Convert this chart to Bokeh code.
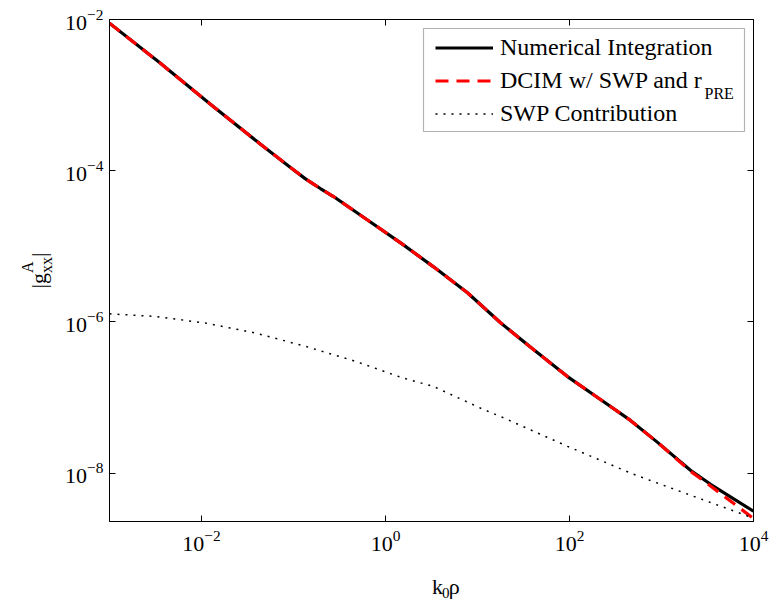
from bokeh.core.properties import value
from bokeh.embed import file_html
from bokeh.layouts import column, row
from bokeh.models import (BoxAnnotation, CustomJSTickFormatter, FixedTicker, Label,
                          Legend, LegendItem, LogAxis, LogTickFormatter, Range1d)
from bokeh.plotting import figure
from bokeh.resources import INLINE

# normalised distance k0*rho
rho_num = [1.0e-3, 3.58e-3, 1.25e-2, 4.38e-2, 0.0927, 0.135, 0.196, 0.272, 0.637,
           1.46, 3.33, 7.78, 17.8, 40.6, 95.1, 217.0, 460.0, 906.0, 2065.0, 3412.0,
           1.0e4]
# |g_xx^A| from numerical integration of the Sommerfeld integral
g_num = [8.93e-3, 2.63e-3, 7.57e-4, 2.24e-4, 1.10e-4, 7.80e-5, 5.81e-5, 4.55e-5,
         2.23e-5, 1.11e-5, 5.35e-6, 2.43e-6, 9.75e-7, 4.30e-7, 1.89e-7, 9.42e-8,
         4.98e-8, 2.55e-8, 1.09e-8, 7.11e-9, 3.13e-9]
# DCIM approximation with surface-wave poles and r_PRE
rho_dcim = rho_num
g_dcim = [8.93e-3, 2.63e-3, 7.57e-4, 2.24e-4, 1.10e-4, 7.80e-5, 5.81e-5, 4.55e-5,
          2.23e-5, 1.11e-5, 5.35e-6, 2.43e-6, 9.75e-7, 4.30e-7, 1.89e-7, 9.42e-8,
          4.98e-8, 2.55e-8, 1.06e-8, 6.76e-9, 2.51e-9]
# surface-wave pole contribution alone
rho_swp = [1.0e-3, 3.16e-3, 1.10e-2, 3.86e-2, 0.135, 0.472, 1.53, 3.33, 11.6,
           17.8, 95.1, 497.0, 3412.0, 1.0e4]
g_swp = [1.28e-6, 1.18e-6, 9.66e-7, 7.13e-7, 4.75e-7, 3.01e-7, 1.82e-7, 1.40e-7,
         6.95e-8, 5.61e-8, 2.26e-8, 9.64e-9, 4.08e-9, 2.54e-9]

x_ticks = [1e-2, 1e0, 1e2, 1e4]
y_ticks = [1e-8, 1e-6, 1e-4, 1e-2]

FONT = "Liberation Serif"
W, H = 771, 602
YLAB_W = 60          # strip holding the rotated y title
XLAB_H = 37          # strip holding the x title
MAIN_W, MAIN_H = W - YLAB_W, H - XLAB_H
LEFT = 109           # canvas x of the frame's left edge
FRAME_BOTTOM = 521   # canvas y of the frame's lower edge

p = figure(width=MAIN_W, height=MAIN_H, x_axis_type="log", y_axis_type="log",
           x_range=Range1d(1e-3, 1e4), y_range=Range1d(2.29e-9, 1e-2),
           output_backend="svg", toolbar_location=None,
           min_border_left=LEFT - YLAB_W, min_border_right=W - 753,
           min_border_top=19, min_border_bottom=MAIN_H - FRAME_BOTTOM)
p.background_fill_color = "white"
p.border_fill_color = "white"
p.outline_line_color = "black"
p.outline_line_width = 1
p.xgrid.visible = False
p.ygrid.visible = False


def style_axis(ax, ticks, labelled, standoff):
    ax.ticker = FixedTicker(ticks=ticks, minor_ticks=[])
    if labelled:
        ax.formatter = LogTickFormatter()
    else:
        ax.formatter = CustomJSTickFormatter(code="return ''")
    ax.major_tick_in = 6
    ax.major_tick_out = 0
    ax.minor_tick_in = 0
    ax.minor_tick_out = 0
    ax.axis_line_color = "black"
    ax.major_tick_line_color = "black"
    ax.major_label_text_font = FONT
    ax.major_label_text_color = "black"
    ax.major_label_text_font_size = "22px"
    ax.major_label_standoff = standoff


style_axis(p.xaxis[0], x_ticks, True, 9)
style_axis(p.yaxis[0], y_ticks, True, 6)

top_axis = LogAxis()
style_axis(top_axis, x_ticks, False, 0)
p.add_layout(top_axis, "above")
right_axis = LogAxis()
style_axis(right_axis, y_ticks, False, 0)
p.add_layout(right_axis, "right")

r_num = p.line(rho_num, g_num, line_color="black", line_width=3.2)
r_dcim = p.line(rho_dcim, g_dcim, line_color="#ff0000", line_width=3.2,
                line_dash="13 8")
r_swp = p.line(rho_swp, g_swp, line_color="black", line_width=1.5,
               line_dash="2 6")

# legend frame
p.add_layout(BoxAnnotation(left=423 - LEFT, right=744 - LEFT,
                           top=FRAME_BOTTOM - 28, bottom=FRAME_BOTTOM - 131,
                           left_units="screen", right_units="screen",
                           top_units="screen", bottom_units="screen",
                           fill_color="white", fill_alpha=1.0,
                           line_color="black", line_width=1.2))

legend = Legend(items=[LegendItem(label="Numerical Integration", renderers=[r_num]),
                       LegendItem(label="DCIM w/ SWP and r", renderers=[r_dcim]),
                       LegendItem(label="SWP Contribution", renderers=[r_swp])],
                location=(435 - LEFT, FRAME_BOTTOM - 130), padding=0, margin=0,
                spacing=0, glyph_width=58, glyph_height=33, label_height=33,
                label_standoff=7, label_text_font=FONT,
                label_text_font_size="24px", label_text_color="black",
                border_line_alpha=0, background_fill_alpha=0)
p.add_layout(legend)

# subscript of the r_PRE legend entry
p.add_layout(Label(x=704 - LEFT, y=FRAME_BOTTOM - 93, x_units="screen",
                   y_units="screen", text="PRE", text_font=FONT,
                   text_font_size="16px", text_color="black",
                   text_align="left", text_baseline="alphabetic"))


def strip(width, height, x0, y0):
    """Blank panel whose data units are canvas pixels (y measured upwards)."""
    f = figure(width=width, height=height, output_backend="svg",
               toolbar_location=None, x_axis_location=None, y_axis_location=None,
               x_range=Range1d(x0, x0 + width), y_range=Range1d(y0, y0 + height),
               min_border=0)
    f.outline_line_color = None
    f.xgrid.visible = False
    f.ygrid.visible = False
    f.background_fill_color = "white"
    f.border_fill_color = "white"
    return f


def put(f, text, cx, cy, size, angle=0.0):
    f.text(x=[cx], y=[H - cy], text=[text], text_font=value(FONT),
           text_font_size=value(size), text_color="black", text_align="left",
           text_baseline="alphabetic", angle=angle)


# x title: k_0 rho
xlab = strip(MAIN_W, XLAB_H, YLAB_W, 0)
put(xlab, "k", 416, 586, "22px")
put(xlab, "0", 427, 592, "15px")
put(xlab, "\u03c1", 434.5, 586, "22px")

# y title: |g^A_xx|, reading upwards
ylab = strip(YLAB_W, H, 0, 0)
up = 1.5707963267948966
put(ylab, "|g", 38, 288, "22px", up)
put(ylab, "A", 27, 272.6, "16px", up)
put(ylab, "xx", 46, 272.6, "16px", up)
put(ylab, "|", 38, 256.6, "22px", up)

page = row(ylab, column(p, xlab, spacing=0), spacing=0)
open("out.html", "w").write(file_html(page, INLINE))
